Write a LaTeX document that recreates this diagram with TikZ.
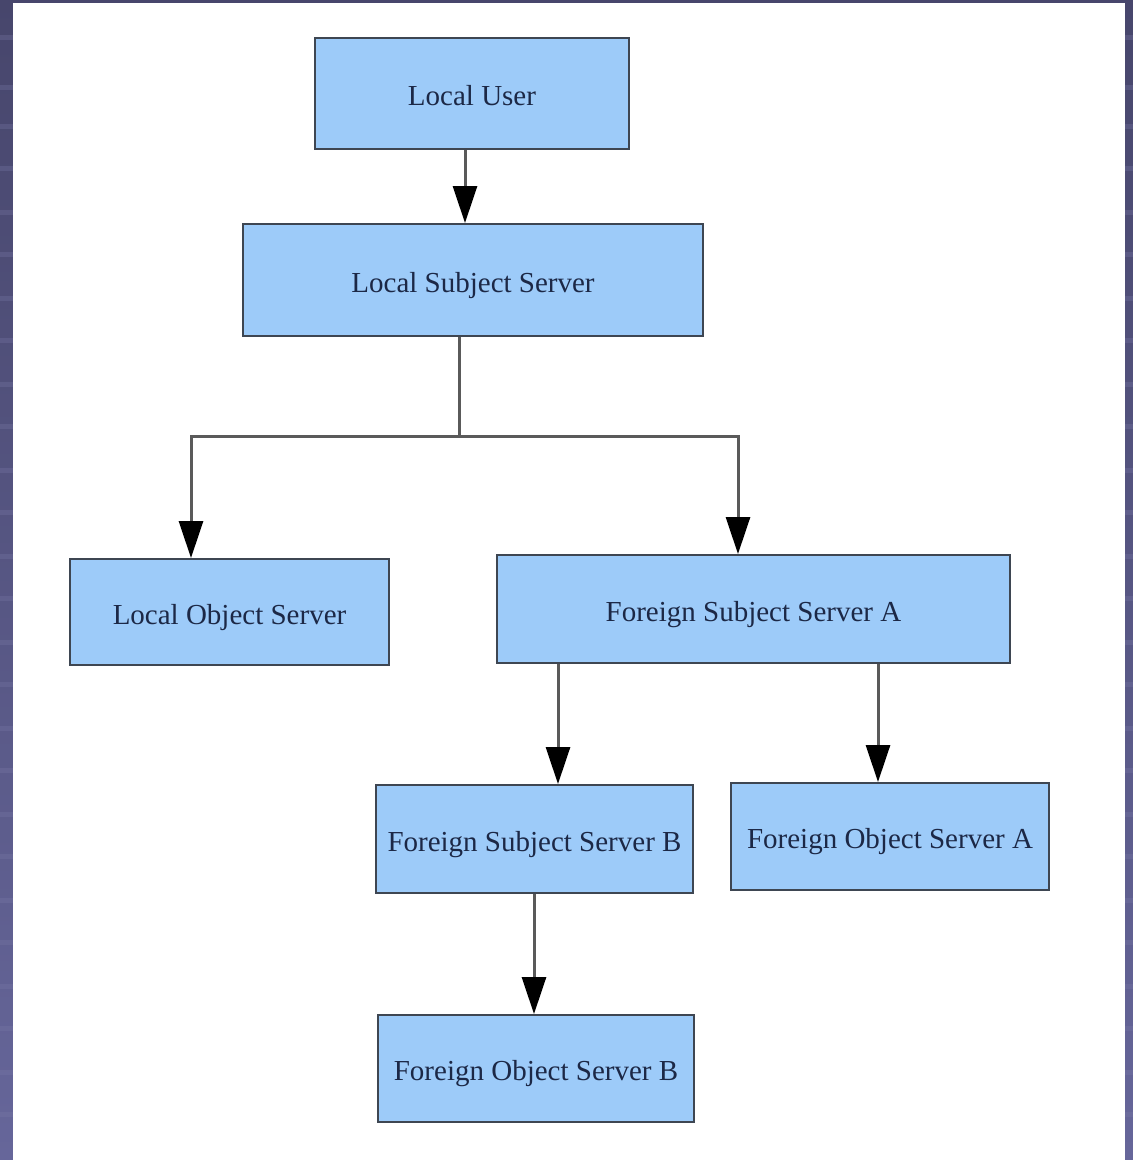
\documentclass[tikz,border=0pt]{standalone}
\usepackage{fontspec}
\setmainfont{Liberation Serif}
\usetikzlibrary{arrows.meta}
\definecolor{bgtop}{HTML}{47466C}
\definecolor{bgbot}{HTML}{66669A}
\definecolor{bgstripe}{HTML}{7A7AA8}
\definecolor{boxfill}{HTML}{9DCBF9}
\definecolor{boxline}{HTML}{3E4652}
\definecolor{txt}{HTML}{1C2846}
\definecolor{wire}{HTML}{5A5A5A}
\tikzset{
  server/.style={draw=boxline, line width=2pt, fill=boxfill, rectangle,
    inner sep=0pt, text=txt, font=\fontsize{29}{33}\selectfont,
    text height=24pt, text depth=0pt},
  link/.style={draw=wire, line width=3pt,
    -{Triangle[length=37pt,width=24pt,color=black]}},
  bus/.style={draw=wire, line width=3pt}
}
\begin{document}
\begin{tikzpicture}[x=1pt,y=-1pt]
  \useasboundingbox (0,0) rectangle (1133,1160);
  % slide backdrop and white panel
  \shade[top color=bgtop, bottom color=bgbot] (0,0) rectangle (1133,1160);
  \foreach \yy in {35,85,124,166,210,252,296,338,382,424,468,510,554,596,640,682,726,768,812,854,898,940,984,1026,1070,1112}
    \fill[bgstripe, opacity=0.3] (0,\yy) rectangle (1133,\yy+5);
  \fill[white] (13,3) rectangle (1125,1160);

  % servers
  \node[server, minimum width=314pt, minimum height=111pt] (lu)   at (472,93.5)   {Local User};
  \node[server, minimum width=460pt, minimum height=112pt] (lss)  at (473,280)    {Local Subject Server};
  \node[server, minimum width=319pt, minimum height=106pt] (los)  at (229.5,612)  {Local Object Server};
  \node[server, minimum width=513pt, minimum height=108pt] (fssa) at (753.5,609)  {Foreign Subject Server A};
  \node[server, minimum width=317pt, minimum height=108pt] (fssb) at (534.5,839)  {Foreign Subject Server B};
  \node[server, minimum width=318pt, minimum height=107pt] (fosa) at (890,836.5)  {Foreign Object Server A};
  \node[server, minimum width=316pt, minimum height=107pt] (fosb) at (536,1068.5) {Foreign Object Server B};

  % connector columns
  \coordinate (c1) at (465,0);
  \coordinate (c2) at (459,0);
  \coordinate (c3) at (191,0);
  \coordinate (c4) at (738,0);
  \coordinate (c5) at (558,0);
  \coordinate (c6) at (878,0);
  \coordinate (c7) at (534,0);
  \coordinate (split) at (459,436);

  \draw[link] (lu.south -| c1) -- (lss.north -| c1);
  \draw[bus] (lss.south -| c2) -- (split);
  \draw[link] (split) -| (los.north -| c3);
  \draw[link] (split) -| (fssa.north -| c4);
  \draw[link] (fssa.south -| c5) -- (fssb.north -| c5);
  \draw[link] (fssa.south -| c6) -- (fosa.north -| c6);
  \draw[link] (fssb.south -| c7) -- (fosb.north -| c7);
\end{tikzpicture}
\end{document}
